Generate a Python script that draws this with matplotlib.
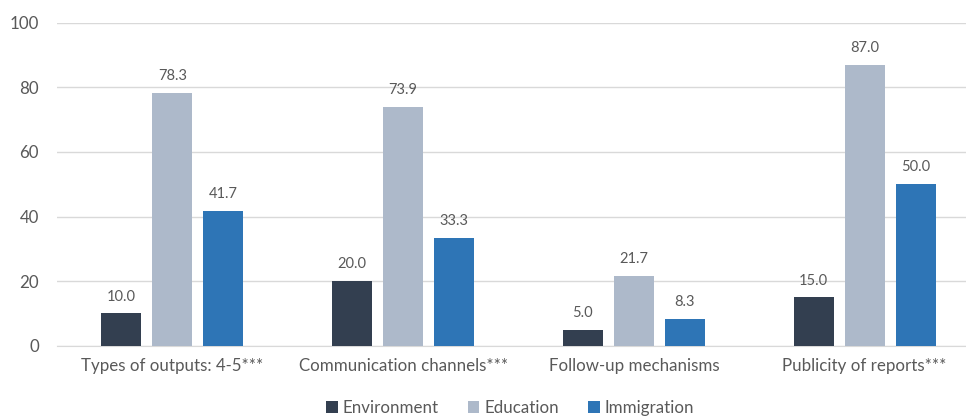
import matplotlib.pyplot as plt
import numpy as np

categories = ["Types of outputs: 4-5***", "Communication channels***",
              "Follow-up mechanisms", "Publicity of reports***"]
series_names = ["Environment", "Education", "Immigration"]
environment = [10.0, 20.0, 5.0, 15.0]
education = [78.3, 73.9, 21.7, 87.0]
immigration = [41.7, 33.3, 8.3, 50.0]
y_ticks = [0, 20, 40, 60, 80, 100]

colors = ["#333F50", "#ADB9CA", "#2E75B6"]
text_color = "#595959"

plt.rcParams["font.family"] = ["Lato", "DejaVu Sans"]

fig = plt.figure(figsize=(9.66, 4.17), dpi=100)
ax = fig.add_axes([57 / 966, (417 - 345.7) / 417, 923 / 966, 323 / 417])

x = np.arange(len(categories))
width = 0.173
step = 0.221
for i, (name, vals) in enumerate(zip(series_names, [environment, education, immigration])):
    pos = x + (i - 1) * step
    bars = ax.bar(pos, vals, width, color=colors[i], label=name, zorder=3)
    for b, v in zip(bars, vals):
        ax.annotate(f"{v:.1f}", (b.get_x() + b.get_width() / 2, v),
                    xytext=(0, 7), textcoords="offset points",
                    ha="center", va="bottom", fontsize=10.5, color=text_color)

ax.set_xlim(-0.5, len(categories) - 0.5)
ax.set_ylim(0, 100)
ax.set_yticks(y_ticks)
ax.set_yticklabels([str(t) for t in y_ticks])
ax.set_xticks(x)
ax.set_xticklabels(categories)
ax.tick_params(axis="both", length=0, colors=text_color, labelsize=12.2)
ax.tick_params(axis="x", pad=9)
ax.tick_params(axis="y", pad=13)

ax.grid(axis="y", color="#D9D9D9", linewidth=1, zorder=0)
for s in ["top", "right", "left"]:
    ax.spines[s].set_visible(False)
ax.spines["bottom"].set_color("#D9D9D9")
ax.spines["bottom"].set_zorder(1)

handles, labels = ax.get_legend_handles_labels()
fig.legend(handles, labels, loc="center", bbox_to_anchor=(510 / 966, 1 - 408 / 417),
           ncol=3, frameon=False, fontsize=12.2, labelcolor=text_color,
           handlelength=0.7, handleheight=0.7, handletextpad=0.3, columnspacing=1.7)

fig.savefig("out.png", dpi=100)
